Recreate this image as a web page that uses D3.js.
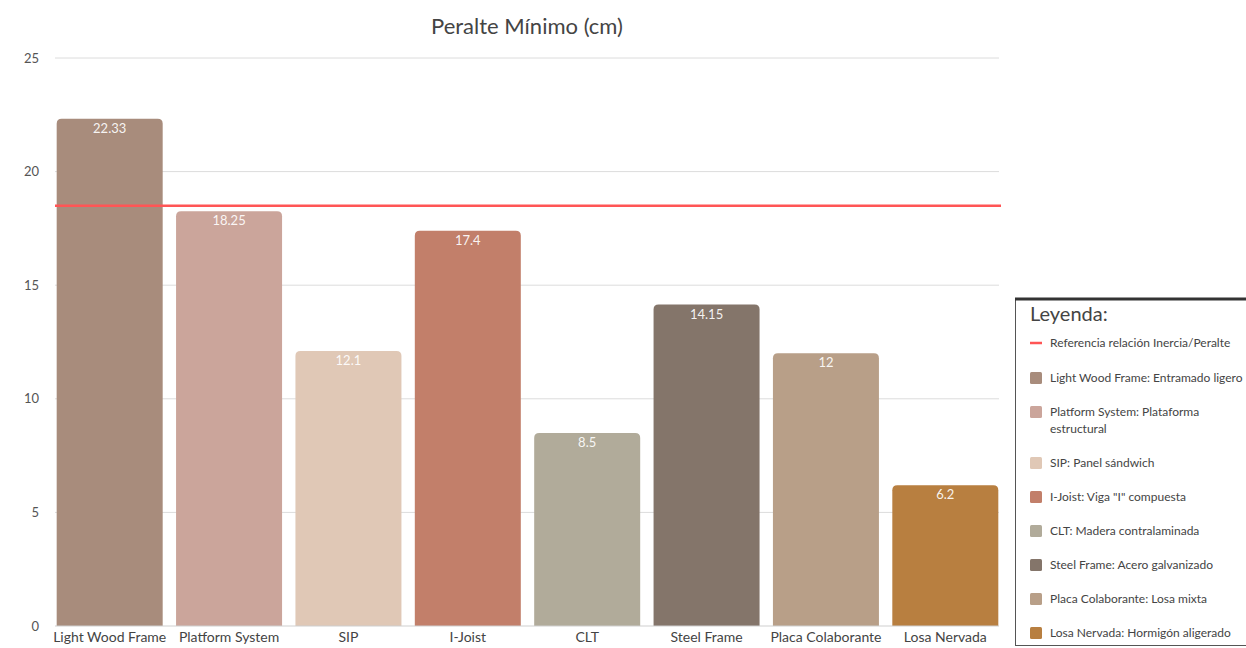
<!DOCTYPE html>
<html>
<head>
<meta charset="utf-8">
<script src="https://cdn.jsdelivr.net/npm/d3@7"></script>
<style>
  body { margin: 0; background: #fff; }
  svg text { font-family: Lato, "Open Sans", sans-serif; }
</style>
</head>
<body>
<svg id="chart" width="1246" height="648"></svg>
<script>
var categories = ["Light Wood Frame", "Platform System", "SIP", "I-Joist", "CLT", "Steel Frame", "Placa Colaborante", "Losa Nervada"];
var values = [22.33, 18.25, 12.1, 17.4, 8.5, 14.15, 12, 6.2];
var colors = ["#a88c7c", "#cba59b", "#e0c8b6", "#c27f6a", "#b1ab9a", "#84756a", "#b89f88", "#b87f40"];
var yTicks = [0, 5, 10, 15, 20, 25];
var referenceValue = 18.5;
var legendLabels = [
    "Light Wood Frame: Entramado ligero",
    "Platform System: Plataforma\nestructural",
    "SIP: Panel sándwich",
    "I-Joist: Viga \"I\" compuesta",
    "CLT: Madera contralaminada",
    "Steel Frame: Acero galvanizado",
    "Placa Colaborante: Losa mixta",
    "Losa Nervada: Hormigón aligerado"
];
var referenceLabel = "Referencia relación Inercia/Peralte";

var svg = d3.select("#chart");

var x = d3.scaleBand()
    .domain(categories)
    .range([50, 1005])
    .paddingInner(0.112)
    .paddingOuter(0.056);

var y = d3.scaleLinear()
    .domain([0, 25])
    .range([626, 58]);

// title
svg.append("text")
    .attr("x", 527)
    .attr("y", 34)
    .attr("text-anchor", "middle")
    .attr("font-size", 22)
    .attr("fill", "#444")
    .text("Peralte Mínimo (cm)");

// grid
svg.append("g")
    .selectAll("line")
    .data(yTicks.slice(1))
    .enter()
    .append("line")
    .attr("x1", 55)
    .attr("x2", 999)
    .attr("y1", d => y(d))
    .attr("y2", d => y(d))
    .attr("stroke", "#dcdcdc")
    .attr("stroke-width", 1);

// y axis labels
var yAxis = d3.axisLeft(y).tickValues(yTicks).tickSize(0).tickPadding(8);
var gy = svg.append("g")
    .attr("transform", "translate(47,0)")
    .call(yAxis);
gy.select(".domain").remove();
gy.selectAll("text")
    .attr("font-size", 13)
    .attr("fill", "#555")
    .style("font-family", "Lato, sans-serif");

// bars with rounded top
function barPath(d, i) {
    var x0 = x(categories[i]), w = x.bandwidth();
    var top = y(d), bottom = y(0), r = 5;
    return "M" + x0 + "," + bottom +
        "V" + (top + r) +
        "Q" + x0 + "," + top + " " + (x0 + r) + "," + top +
        "H" + (x0 + w - r) +
        "Q" + (x0 + w) + "," + top + " " + (x0 + w) + "," + (top + r) +
        "V" + bottom + "Z";
}

svg.append("g")
    .selectAll("path")
    .data(values)
    .enter()
    .append("path")
    .attr("d", barPath)
    .attr("fill", (d, i) => colors[i]);

// value labels
svg.append("g")
    .selectAll("text")
    .data(values)
    .enter()
    .append("text")
    .attr("x", (d, i) => x(categories[i]) + x.bandwidth() / 2)
    .attr("y", d => y(d) + 14)
    .attr("text-anchor", "middle")
    .attr("font-size", 13)
    .attr("fill", "#fff")
    .attr("fill-opacity", 0.92)
    .text(d => d);

// baseline
svg.append("line")
    .attr("x1", 55).attr("x2", 999)
    .attr("y1", y(0)).attr("y2", y(0))
    .attr("stroke", "#cfcfcf");

// x labels
var xAxis = d3.axisBottom(x).tickSize(0).tickPadding(6);
var gx = svg.append("g")
    .attr("transform", "translate(0," + y(0) + ")")
    .call(xAxis);
gx.select(".domain").remove();
gx.selectAll("text")
    .attr("font-size", 14)
    .attr("fill", "#444")
    .style("font-family", "Lato, sans-serif");

// reference line
svg.append("line")
    .attr("x1", 55).attr("x2", 1001)
    .attr("y1", y(referenceValue)).attr("y2", y(referenceValue))
    .attr("stroke", "#ff5555")
    .attr("stroke-width", 2.5);

// legend
var lg = svg.append("g");
lg.append("rect")
    .attr("x", 1015.5).attr("y", 298.5)
    .attr("width", 260).attr("height", 347)
    .attr("fill", "#fff")
    .attr("stroke", "#555")
    .attr("stroke-width", 1);
lg.append("line")
    .attr("x1", 1015).attr("x2", 1246)
    .attr("y1", 299).attr("y2", 299)
    .attr("stroke", "#333")
    .attr("stroke-width", 3);
lg.append("text")
    .attr("x", 1030).attr("y", 321)
    .attr("font-size", 20)
    .attr("fill", "#444")
    .text("Leyenda:");

lg.append("line")
    .attr("x1", 1030).attr("x2", 1042)
    .attr("y1", 343).attr("y2", 343)
    .attr("stroke", "#ff5555")
    .attr("stroke-width", 2.5);
lg.append("text")
    .attr("x", 1050).attr("y", 347)
    .attr("font-size", 12)
    .attr("fill", "#444")
    .text(referenceLabel);

var itemY = [];
var cy = 378;
legendLabels.forEach(function (l) {
    itemY.push(cy);
    cy += 34 + (l.split("\n").length - 1) * 17;
});

var items = lg.selectAll(".item")
    .data(legendLabels)
    .enter()
    .append("g")
    .attr("class", "item")
    .attr("transform", (d, i) => "translate(0," + itemY[i] + ")");

items.append("rect")
    .attr("x", 1030).attr("y", -6)
    .attr("width", 12).attr("height", 12)
    .attr("rx", 1.5)
    .attr("fill", (d, i) => colors[i]);

items.append("text")
    .attr("x", 1050)
    .attr("y", 4)
    .attr("font-size", 12)
    .attr("fill", "#444")
    .selectAll("tspan")
    .data(d => d.split("\n"))
    .enter()
    .append("tspan")
    .attr("x", 1050)
    .attr("dy", (d, i) => i === 0 ? 0 : 17)
    .text(d => d);
</script>
</body>
</html>
